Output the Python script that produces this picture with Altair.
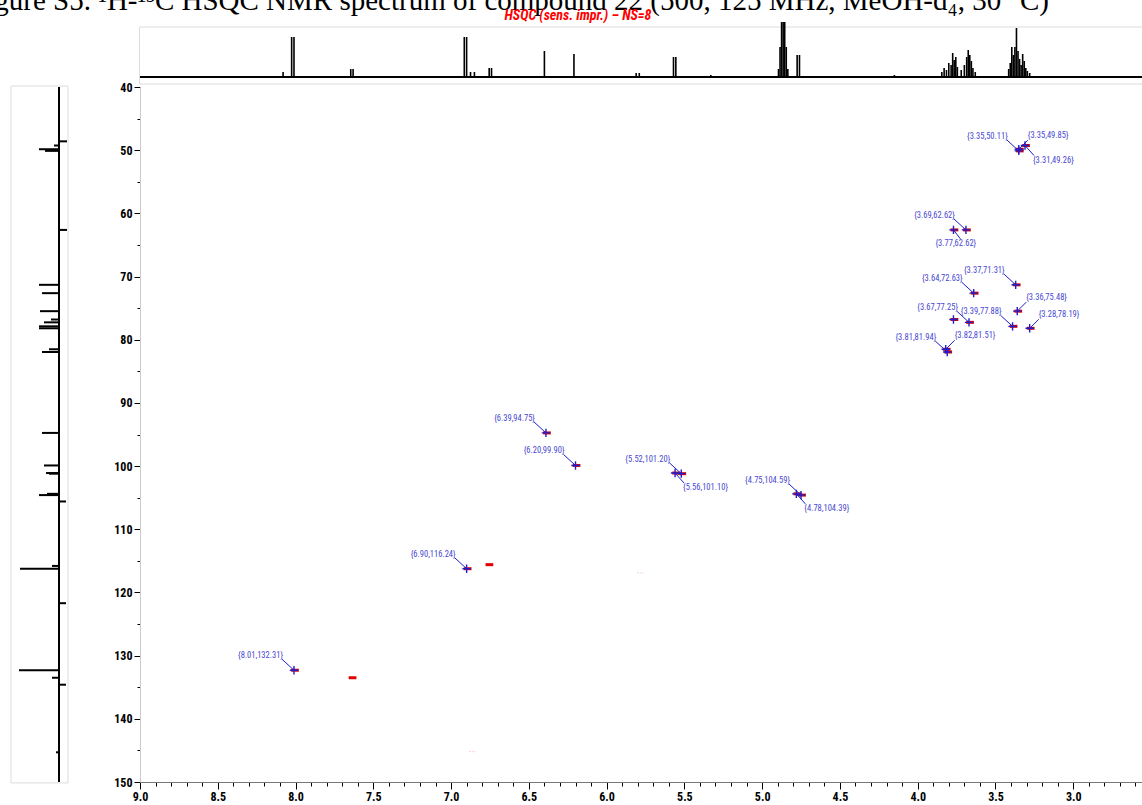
import altair as alt
import pandas as pd

# ---------------- data ----------------
# 1H projection (top trace): line positions (ppm) and heights
h_shift = [8.08, 8.025, 8.01, 7.645, 7.63, 6.915, 6.90, 6.875, 6.85, 6.755, 6.74,
           6.40, 6.21, 5.81, 5.79, 5.57, 5.555, 5.33,
           4.895, 4.885, 4.875, 4.865, 4.855, 4.845, 4.835, 4.775, 4.76, 4.15,
           3.845, 3.83, 3.815, 3.80, 3.785, 3.775, 3.765, 3.755, 3.745, 3.72,
           3.70, 3.685, 3.675, 3.665, 3.655, 3.645, 3.63,
           3.415, 3.405, 3.395, 3.385, 3.375, 3.365, 3.355, 3.345, 3.335,
           3.325, 3.315, 3.305, 3.295, 3.28]
h_height = [5, 40, 40, 8, 8, 40, 40, 5, 5, 9, 9,
            26, 23, 4, 4, 20, 20, 2,
            8, 30, 55, 55, 55, 30, 8, 22, 22, 2,
            5, 9, 7, 14, 12, 24, 17, 20, 10, 7,
            12, 20, 27, 22, 16, 9, 5,
            8, 14, 30, 22, 30, 49, 26, 18, 12,
            23, 16, 9, 6, 4]

# 13C projection (left trace): line positions (ppm) and heights
c_shift = [48.6, 49.26, 49.85, 50.11, 62.62, 71.31, 72.63, 75.48, 76.8, 77.25,
           77.88, 78.19, 81.51, 81.94, 94.75, 99.90, 101.10, 101.20, 104.39,
           104.59, 105.6, 115.8, 116.24, 121.7, 132.31, 133.5, 134.6, 145.3]
c_height = [-8, 5, 20, 14, -8, 20, 17, 19, 8, 15,
            20, 20, 10, 17, 17, 15, 13, 10, 12,
            20, -7, 7, 39, -7, 40, 7, -7, 3]

# picked HSQC correlations (1H ppm, 13C ppm) and side of their label
peak_h = [3.35, 3.35, 3.31, 3.69, 3.77, 3.37, 3.64, 3.36, 3.67, 3.39, 3.28,
          3.81, 3.82, 6.39, 6.20, 5.52, 5.56, 4.75, 4.78, 6.90, 8.01]
peak_c = [50.11, 49.85, 49.26, 62.62, 62.62, 71.31, 72.63, 75.48, 77.25, 77.88,
          78.19, 81.94, 81.51, 94.75, 99.90, 101.20, 101.10, 104.59, 104.39,
          116.24, 132.31]
peak_side = ["ul", "ur", "lr", "ul", "lc", "ul", "ul", "ur", "ul", "ul", "ur",
             "ul", "ur", "ul", "ul", "ul", "lr", "ul", "lr", "ul", "ul"]

# further contours without a label
extra_h = [3.77, 6.76, 7.64]
extra_c = [76.8, 115.6, 133.5]
faint_h = [5.78, 6.86]
faint_c = [116.9, 145.2]

title_text = "Figure S5. \u00b9H-\u00b9\u00b3C HSQC NMR spectrum of compound 22 (500, 125 MHz, MeOH-d\u2084, 30 \u00b0C)"
subtitle_text = "HSQC (sens. impr.) \u2013 NS=8"

# ---------------- scales & styling ----------------
NARROW = "Liberation Sans Narrow, Arial Narrow, Roboto Condensed, Liberation Sans, sans-serif"
BLUE = "#1f1fc8"
LABEL_BLUE = "#4848d0"
RED = "#e00000"

HX = alt.Scale(domain=[9.0, 2.5], range=[140, 1151], zero=False, nice=False)
CY = alt.Scale(domain=[40, 150], range=[87, 782], zero=False, nice=False)
TOP_I = alt.Scale(domain=[0, 50], range=[77, 27], zero=False, nice=False)
LEFT_I = alt.Scale(domain=[0, 50], range=[59, 9], zero=False, nice=False)

top_df = pd.DataFrame({"ppm": h_shift, "h": h_height, "zero": 0.0})
left_df = pd.DataFrame({"ppm": c_shift, "h": c_height, "zero": 0.0})
peaks = pd.DataFrame({"hx": peak_h, "cy": peak_c, "side": peak_side})
peaks["label"] = ["{%.2f,%.2f}" % (a, b) for a, b in zip(peak_h, peak_c)]
extra = pd.DataFrame({"hx": extra_h, "cy": extra_c})
faint = pd.DataFrame({"hx": faint_h, "cy": faint_c})

# ---------------- top 1H trace ----------------
top_frame = alt.Chart(pd.DataFrame({"x0": [9.003], "x1": [2.5], "y0": [-7.0], "y1": [50.0]})).mark_rect(
    fill=None, stroke="#dcdcdc", strokeWidth=1
).encode(
    x=alt.X("x0:Q", scale=HX, axis=None), x2="x1:Q",
    y=alt.Y("y0:Q", scale=TOP_I, axis=None), y2="y1:Q",
)
top_base = alt.Chart(pd.DataFrame({"x0": [9.0], "x1": [2.5], "y": [0.0]})).mark_rule(
    color="black", strokeWidth=2
).encode(
    x=alt.X("x0:Q", scale=HX, axis=None), x2="x1:Q",
    y=alt.Y("y:Q", scale=TOP_I, axis=None),
)
top_lines = alt.Chart(top_df).mark_rule(color="black", strokeWidth=1.6).encode(
    x=alt.X("ppm:Q", scale=HX, axis=None),
    y=alt.Y("zero:Q", scale=TOP_I, axis=None), y2="h:Q",
)

# ---------------- left 13C trace ----------------
left_frame = alt.Chart(pd.DataFrame({"x0": [-9.0], "x1": [48.0], "y0": [39.85], "y1": [150.15]})).mark_rect(
    fill=None, stroke="#dcdcdc", strokeWidth=1
).encode(
    x=alt.X("x0:Q", scale=LEFT_I, axis=None), x2="x1:Q",
    y=alt.Y("y0:Q", scale=CY, axis=None), y2="y1:Q",
)
left_base = alt.Chart(pd.DataFrame({"x": [0.0], "y0": [40.0], "y1": [150.0]})).mark_rule(
    color="black", strokeWidth=2
).encode(
    x=alt.X("x:Q", scale=LEFT_I, axis=None),
    y=alt.Y("y0:Q", scale=CY, axis=None), y2="y1:Q",
)
left_lines = alt.Chart(left_df).mark_rule(color="black", strokeWidth=2).encode(
    y=alt.Y("ppm:Q", scale=CY, axis=None),
    x=alt.X("zero:Q", scale=LEFT_I, axis=None), x2="h:Q",
)

# ---------------- 2D HSQC map ----------------
x_axis = alt.Axis(
    orient="bottom", offset=-23, title=None, grid=False,
    values=[round(9.0 - 0.1 * i, 1) for i in range(66)],
    labelExpr="round(datum.value * 10) % 5 === 0 ? format(datum.value, '.1f') : ''",
    tickSize={"condition": {"test": "round(datum.value * 10) % 5 === 0", "value": 7}, "value": 4},
    tickColor="black", domainColor="#777777", labelColor="black",
    labelFont=NARROW, labelFontSize=12, labelFontWeight="bold",
    labelPadding=2, labelOverlap=False, labelFlush=False,
)
y_axis = alt.Axis(
    orient="left", offset=-140, title=None, grid=False,
    values=list(range(40, 151, 5)),
    labelExpr="datum.value % 10 === 0 ? datum.label : ''",
    tickSize={"condition": {"test": "datum.value % 10 === 0", "value": 6}, "value": 3},
    tickColor="black", domainColor="#cccccc", labelColor="black",
    labelFont=NARROW, labelFontSize=12, labelFontWeight="bold",
    labelPadding=2, labelOverlap=False, labelFlush=False,
)

PLUS = "M-1,0L1,0M0,-1L0,1"
DASH = "M-1,0L1,0"

red_marks = alt.Chart(pd.concat([peaks[["hx", "cy"]], extra])).mark_point(
    shape=DASH, filled=False, stroke=RED, strokeWidth=3, size=60, xOffset=1, opacity=1
).encode(
    x=alt.X("hx:Q", scale=HX, axis=x_axis),
    y=alt.Y("cy:Q", scale=CY, axis=y_axis),
)
faint_marks = alt.Chart(faint).mark_point(
    shape=DASH, filled=False, stroke="#f08080", strokeWidth=1, size=40, strokeDash=[1, 2]
).encode(
    x=alt.X("hx:Q", scale=HX, axis=None),
    y=alt.Y("cy:Q", scale=CY, axis=None),
)
blue_marks = alt.Chart(pd.concat([peaks[["hx", "cy"]], extra.iloc[[0]]])).mark_point(
    shape=PLUS, filled=False, stroke=BLUE, strokeWidth=1.4, size=70, opacity=1
).encode(
    x=alt.X("hx:Q", scale=HX, axis=None),
    y=alt.Y("cy:Q", scale=CY, axis=None),
)

# leader line end (px) and label anchor (px, align) for each label side
SIDES = {
    "ul": dict(lx=-12, ly=-11, tx=-11, ty=-15, align="right"),
    "ur": dict(lx=9, ly=-9, tx=9, ty=-14, align="left"),
    "lr": dict(lx=9, ly=10, tx=8, ty=14, align="left"),
    "lc": dict(lx=7, ly=9, tx=-18, ty=13, align="left"),
}
label_layers = []
for side, s in SIDES.items():
    sub = alt.Chart(peaks).transform_filter(alt.datum.side == side)
    label_layers.append(
        sub.mark_rule(color=BLUE, strokeWidth=1, x2Offset=s["lx"], y2Offset=s["ly"]).encode(
            x=alt.X("hx:Q", scale=HX, axis=None), x2="hx:Q",
            y=alt.Y("cy:Q", scale=CY, axis=None), y2="cy:Q",
        )
    )
    label_layers.append(
        sub.mark_text(
            align=s["align"], baseline="middle", dx=s["tx"], dy=s["ty"],
            font=NARROW, fontSize=8.5, color=LABEL_BLUE,
        ).encode(
            x=alt.X("hx:Q", scale=HX, axis=None),
            y=alt.Y("cy:Q", scale=CY, axis=None),
            text="label:N",
        )
    )

# ---------------- heading texts ----------------
heading = alt.Chart(pd.DataFrame({"t": [title_text]})).mark_text(
    align="right", baseline="alphabetic", font="Liberation Serif, Times New Roman, serif",
    fontSize=29, color="black",
).encode(x=alt.value(1049), y=alt.value(10), text="t:N")
subheading = alt.Chart(pd.DataFrame({"t": [subtitle_text]})).mark_text(
    align="center", baseline="middle", font=NARROW, fontSize=14,
    fontWeight="bold", fontStyle="italic", color="#ff0000",
).encode(x=alt.value(578), y=alt.value(16), text="t:N")

chart = alt.layer(
    red_marks, faint_marks, *label_layers, blue_marks,
    top_frame, top_base, top_lines,
    left_frame, left_base, left_lines,
    heading, subheading,
).resolve_scale(
    x="independent", y="independent"
).properties(
    width=1142, height=805, autosize=alt.AutoSizeParams(type="none"), padding=0,
    background="white",
).configure_view(stroke=None)

chart.save("out.html", embed_options={"renderer": "svg", "actions": False})
